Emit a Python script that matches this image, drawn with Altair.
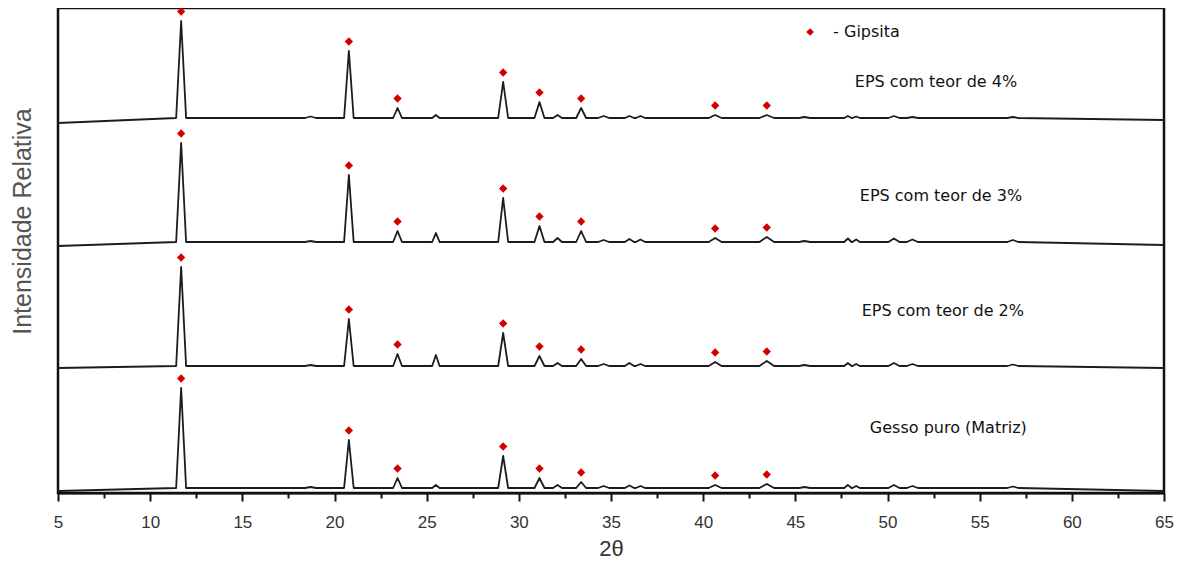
import altair as alt
import pandas as pd

# ---- data ----
series_names = ["EPS com teor de 4%", "EPS com teor de 3%", "EPS com teor de 2%", "Gesso puro (Matriz)"]

peak_2theta = [11.68, 18.7, 20.78, 23.42, 25.5, 29.15, 31.12, 32.1, 33.38, 34.6,
               36.0, 36.6, 40.65, 43.45, 45.5, 47.85, 48.3, 50.35, 51.35, 56.8]
peak_half_width = [0.27, 0.3, 0.26, 0.24, 0.2, 0.27, 0.27, 0.24, 0.27, 0.3,
                   0.25, 0.25, 0.35, 0.4, 0.3, 0.2, 0.2, 0.3, 0.3, 0.3]
gypsum_marked = [True, False, True, True, False, True, True, False, True, False,
                 False, False, True, True, False, False, False, False, False, False]

baseline_start = [370, 247, 125, 2]
baseline_level = [375, 251, 127, 5]
baseline_end = [373, 248, 125, 2]

heights_4 = [97, 1.5, 67, 10, 3, 36, 16, 3, 10, 2, 2, 2, 3, 3, 1, 2, 1.5, 2, 1, 1]
heights_3 = [99, 1, 67, 11, 9, 44, 16, 4, 11, 2, 3, 2.5, 4, 5, 1, 3.5, 2.5, 3.5, 2.5, 2]
heights_2 = [99, 1, 47, 12, 11, 33, 10, 3, 7, 2, 3, 2, 4, 5, 1, 3, 2, 3, 2, 1.5]
heights_0 = [100, 1, 48, 10, 3, 32, 10, 3, 6, 2, 2.5, 2, 3, 4, 1, 3, 2, 3, 2, 1.5]
all_heights = [heights_4, heights_3, heights_2, heights_0]

label_2theta = [52.63, 52.9, 53.0, 53.3]
label_level = [411, 297, 182, 65]

legend_text = "- Gipsita"
legend_marker_2theta = 45.8
legend_text_2theta = 47.05
legend_level = 461

x_ticks = [5, 7.5, 10, 12.5, 15, 17.5, 20, 22.5, 25, 27.5, 30, 32.5, 35, 37.5,
           40, 42.5, 45, 47.5, 50, 52.5, 55, 57.5, 60, 62.5, 65]

MARKER_GAP = 9.5

# ---- build tables ----
rows = []
marks = []
for s, name in enumerate(series_names):
    lvl = baseline_level[s]
    rows.append({"series": name, "tt": 5.0, "I": baseline_start[s]})
    for p, w, h, m in zip(peak_2theta, peak_half_width, all_heights[s], gypsum_marked):
        rows.append({"series": name, "tt": p - w, "I": lvl})
        rows.append({"series": name, "tt": p, "I": lvl + h})
        rows.append({"series": name, "tt": p + w, "I": lvl})
        if m:
            marks.append({"series": name, "tt": p, "I": lvl + h + MARKER_GAP})
    rows.append({"series": name, "tt": 65.0, "I": baseline_end[s]})

df = pd.DataFrame(rows)
mdf = pd.DataFrame(marks)
ldf = pd.DataFrame({"tt": label_2theta, "I": label_level, "text": series_names})
legm = pd.DataFrame({"tt": [legend_marker_2theta], "I": [legend_level]})
legt = pd.DataFrame({"tt": [legend_text_2theta], "I": [legend_level], "text": [legend_text]})

x_enc = alt.X(
    "tt:Q",
    scale=alt.Scale(domain=[5, 65], nice=False, zero=False),
    axis=alt.Axis(
        values=x_ticks,
        labelExpr="datum.value % 5 === 0 ? datum.label : ''",
        tickSize={"condition": {"test": "datum.value % 5 === 0", "value": 8}, "value": 5},
        tickColor="#111",
        tickWidth=2,
        domainColor="#111",
        domainWidth=2,
        grid=False,
        labelFontSize=17,
        labelFont="Liberation Sans",
        labelColor="#333",
        labelPadding=13,
        labelOverlap=False,
        labelFlush=False,
        title="2θ",
        titleFont="Liberation Sans",
        titleFontSize=22,
        titleFontWeight="normal",
        titleColor="#333",
        titlePadding=8,
    ),
)
y_enc = alt.Y(
    "I:Q",
    scale=alt.Scale(domain=[0, 485], nice=False, zero=False),
    axis=alt.Axis(
        title="Intensidade Relativa",
        labels=False,
        ticks=False,
        domain=False,
        grid=False,
        titleX=-36,
        titleY=213,
        titleAngle=-90,
        titleAlign="center",
        titleBaseline="middle",
        titleFont="Liberation Sans",
        titleFontSize=25,
        titleFontWeight="normal",
        titleColor="#555",
    ),
)

lines = alt.Chart(df).mark_line(
    color="#1c1c1c", strokeWidth=1.8, strokeJoin="round"
).encode(x=x_enc, y=y_enc, detail="series:N")

markers = alt.Chart(mdf).mark_point(
    shape="diamond", filled=True, color="#d40000", size=70, opacity=1, clip=True
).encode(x=x_enc, y=y_enc)

labels = alt.Chart(ldf).mark_text(
    font="DejaVu Sans", fontSize=16, color="#111", align="center", baseline="middle"
).encode(x=x_enc, y=y_enc, text="text:N")

leg_marker = alt.Chart(legm).mark_point(
    shape="diamond", filled=True, color="#d40000", size=60, opacity=1
).encode(x=x_enc, y=y_enc)

leg_text = alt.Chart(legt).mark_text(
    font="DejaVu Sans", fontSize=16, color="#111", align="left", baseline="middle"
).encode(x=x_enc, y=y_enc, text="text:N")

chart = alt.layer(lines, markers, labels, leg_marker, leg_text).properties(
    width=1106,
    height=485,
    autosize=alt.AutoSizeParams(type="none"),
    padding={"left": 50, "top": 0, "right": 10, "bottom": 66},
).configure_view(stroke="#111", strokeWidth=2.5)

chart.save("out.html", embed_options={"renderer": "svg", "actions": False})
